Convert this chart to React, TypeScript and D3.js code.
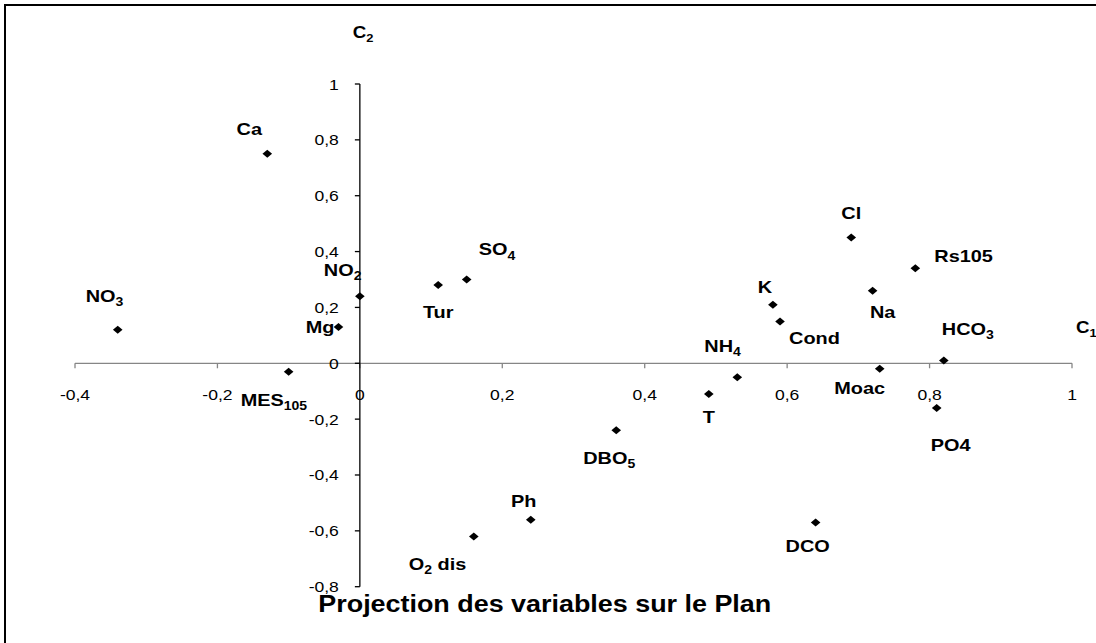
import React from "react";
import * as d3 from "d3";

// variables projected on the factorial plane (C1, C2)
const VARIABLES = [
  "Ca", "NO_3", "Mg", "MES_105", "NO_2", "Tur", "SO_4", "O_2 dis", "Ph", "DBO_5", "T",
  "NH_4", "K", "Cond", "Cl", "Na", "Rs105", "Moac", "HCO_3", "PO4", "DCO",
];
const C1 = [
  -0.13, -0.34, -0.03, -0.1, 0.0, 0.11, 0.15, 0.16, 0.24, 0.36, 0.49,
  0.53, 0.58, 0.59, 0.69, 0.72, 0.78, 0.73, 0.82, 0.81, 0.64,
];
const C2 = [
  0.75, 0.12, 0.13, -0.03, 0.24, 0.28, 0.3, -0.62, -0.56, -0.24, -0.11,
  -0.05, 0.21, 0.15, 0.45, 0.26, 0.34, -0.02, 0.01, -0.16, -0.57,
];
const X_TICKS = [-0.4, -0.2, 0, 0.2, 0.4, 0.6, 0.8, 1];
const Y_TICKS = [-0.8, -0.6, -0.4, -0.2, 0, 0.2, 0.4, 0.6, 0.8, 1];

// label placement relative to each marker: [anchor, dx, dy]
const LABEL_POS: [string, number, number][] = [
  ["middle", -18, -19], ["start", -32, -28], ["end", -4, 6], ["start", -48, 34],
  ["start", -36, -20], ["middle", 0, 33], ["start", 12, -24], ["start", -65, 34],
  ["middle", -7, -13], ["start", -33, 34], ["middle", 0, 29], ["start", -33, -25],
  ["middle", -8, -12], ["start", 9, 23], ["middle", 0, -19], ["middle", 10, 27],
  ["start", 19, -6], ["middle", -20, 25], ["start", -2, -25], ["middle", 14, 43],
  ["middle", -8, 30],
];

const W = 1096;
const H = 643;
const SX = 1.17; // the original text is a little stretched horizontally
const FONT = "'Liberation Sans', Arial, Helvetica, sans-serif";

const fmt = (v: number) => String(+v.toFixed(1)).replace(".", ",");

// "NO_3" -> NO with subscript 3
function Label({ text, x, y, anchor, size, bold, sub = 12 }: any) {
  const m = text.match(/^([^_]*)_(\d+)(.*)$/);
  return (
    <text
      transform={`translate(${x},${y}) scale(${SX},1)`}
      textAnchor={anchor}
      fontSize={size}
      fontWeight={bold ? "bold" : "normal"}
      fontFamily={FONT}
      fill="#000"
    >
      {m ? (
        <>
          {m[1]}
          <tspan fontSize={sub} dy={4}>{m[2]}</tspan>
          {m[3] ? <tspan dy={-4}>{m[3]}</tspan> : null}
        </>
      ) : (
        text
      )}
    </text>
  );
}

export default function App() {
  const x = d3.scaleLinear().domain([-0.4, 1]).range([75, 1072]);
  const y = d3.scaleLinear().domain([-0.8, 1]).range([586.7, 84]);
  const x0 = x(0);
  const y0 = y(0);
  const diamond = "M0,-4L4.8,0L0,4L-4.8,0Z";

  return (
    <svg
      width={W}
      height={H}
      style={{ position: "absolute", left: 0, top: 0, background: "#fff" }}
    >
      <rect width={W} height={H} fill="#fff" />
      <path d={`M5,${H}V5H${W}`} fill="none" stroke="#000" strokeWidth={2} />

      {/* x axis */}
      <line x1={x(-0.4)} x2={x(1)} y1={y0} y2={y0} stroke="#868686" strokeWidth={1.3} />
      {X_TICKS.map((t) => (
        <g key={"xt" + t}>
          <line x1={x(t)} x2={x(t)} y1={y0} y2={y0 + 5} stroke="#868686" strokeWidth={1.3} />
          <Label text={fmt(t)} x={x(t)} y={y0 + 37} anchor="middle" size={15} />
        </g>
      ))}

      {/* y axis */}
      <line x1={x0} x2={x0} y1={y(1)} y2={y(-0.8)} stroke="#000" strokeWidth={1.3} />
      {Y_TICKS.map((t) => (
        <g key={"yt" + t}>
          <line x1={x0 - 5} x2={x0} y1={y(t)} y2={y(t)} stroke="#000" strokeWidth={1.3} />
          <Label text={fmt(t)} x={x0 - 21} y={y(t) + 5.5} anchor="end" size={15} />
        </g>
      ))}

      <Label text="C_2" x={352.7} y={38} anchor="start" size={16} bold sub={11} />
      <Label text="C_1" x={1076} y={333} anchor="start" size={16} bold sub={11} />

      {VARIABLES.map((name, i) => {
        const px = x(C1[i]);
        const py = y(C2[i]);
        const [anchor, dx, dy] = LABEL_POS[i];
        return (
          <g key={name}>
            <path d={diamond} transform={`translate(${px},${py})`} fill="#000" />
            <Label text={name} x={px + dx} y={py + dy} anchor={anchor} size={17} bold />
          </g>
        );
      })}

      <Label
        text="Projection des variables sur le Plan"
        x={318.3}
        y={611.7}
        anchor="start"
        size={23}
        bold
      />
    </svg>
  );
}
